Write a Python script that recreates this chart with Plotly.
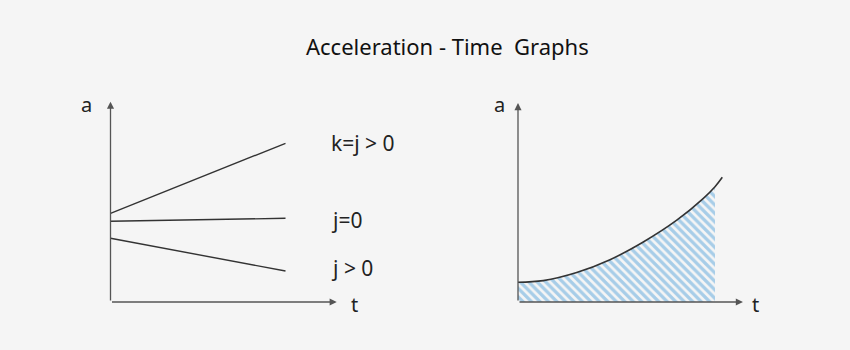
import plotly.graph_objects as go

# ---- data ----
title_text = "Acceleration - Time\u00a0 Graphs"

# left panel: a(t) lines, t in [0, 1]
left_t = [0.0, 1.0]
a_k_pos = [0.887, 1.587]     # k=j > 0
a_j_zero = [0.807, 0.837]    # j=0
a_j_neg = [0.637, 0.310]     # j > 0 (decreasing)
left_labels = ["k=j > 0", "j=0", "j > 0"]
left_label_y = [1.59, 0.82, 0.34]

# right panel: curve a(t)
curve_t = [0.0, 0.128, 0.298, 0.467, 0.636, 0.806, 0.941, 1.0, 1.037]
curve_a = [0.197, 0.214, 0.295, 0.423, 0.600, 0.818, 1.037, 1.153, 1.247]
hatch_t = curve_t[:8]
hatch_a = curve_a[:8]

axis_len_left = (1.293, 2.003)
axis_len_right = (1.142, 1.99)

BG = "#f5f5f5"
AXC = "#555555"
LINEC = "#333333"
FONT = "Noto Sans"

fig = go.Figure()

for ya in (a_k_pos, a_j_zero, a_j_neg):
    fig.add_trace(go.Scatter(x=left_t, y=ya, mode="lines",
                             line=dict(color=LINEC, width=1.4),
                             xaxis="x", yaxis="y", showlegend=False, hoverinfo="skip"))

fig.add_trace(go.Scatter(x=hatch_t, y=hatch_a, mode="lines", fill="tozeroy",
                         line=dict(width=0, shape="spline", color="rgba(0,0,0,0)"),
                         fillcolor="#5aa6dc",
                         fillpattern=dict(shape="\\", fgcolor="#5aa6dc",
                                          bgcolor="rgba(0,0,0,0)", size=6, solidity=0.55),
                         xaxis="x2", yaxis="y2", showlegend=False, hoverinfo="skip"))
fig.add_trace(go.Scatter(x=curve_t, y=curve_a, mode="lines",
                         line=dict(color=LINEC, width=1.6, shape="spline"),
                         xaxis="x2", yaxis="y2", showlegend=False, hoverinfo="skip"))

annotations = []
def arrow(x, y, ax, ay, xr, yr):
    annotations.append(dict(x=x, y=y, ax=ax, ay=ay, xref=xr, yref=yr, axref=xr, ayref=yr,
                            showarrow=True, arrowhead=2, arrowsize=1.1, arrowwidth=1.3,
                            arrowcolor=AXC, text=""))

arrow(axis_len_left[0], 0, 0, 0, "x", "y")
arrow(0, axis_len_left[1], 0, 0, "x", "y")
arrow(axis_len_right[0], 0, 0, 0, "x2", "y2")
arrow(0, axis_len_right[1], 0, 0, "x2", "y2")

def label(x, y, txt, xr, yr, anchor="center", size=20):
    annotations.append(dict(x=x, y=y, xref=xr, yref=yr, text=txt, showarrow=False,
                            xanchor=anchor, yanchor="middle",
                            font=dict(family=FONT, size=size, color="#222222")))

label(-0.135, 1.98, "a", "x", "y")
label(1.394, -0.02, "t", "x", "y")
label(-0.095, 1.98, "a", "x2", "y2")
label(1.208, -0.02, "t", "x2", "y2")
for txt, yy in zip(left_labels, left_label_y):
    label(1.25, yy, txt, "x", "y", anchor="left", size=21)

annotations.append(dict(x=0.527, y=(350 - 46) / 350, xref="paper", yref="paper",
                        text=title_text, showarrow=False, xanchor="center", yanchor="middle",
                        font=dict(family=FONT, size=22, color="#111111")))

px_per_t_left = 175.0
px_per_t_right = 197.0
px_per_a = 100.0
ax_common = dict(showgrid=False, zeroline=False, showticklabels=False, showline=False,
                 ticks="", fixedrange=True)

fig.update_layout(
    width=850, height=350,
    margin=dict(l=0, r=0, t=0, b=0),
    paper_bgcolor=BG, plot_bgcolor=BG,
    xaxis=dict(domain=[0, 0.5], range=[(0 - 110.5) / px_per_t_left, (425 - 110.5) / px_per_t_left], **ax_common),
    yaxis=dict(domain=[0, 1], range=[(302 - 350) / px_per_a, 302 / px_per_a], anchor="x", **ax_common),
    xaxis2=dict(domain=[0.5, 1], range=[(425 - 518) / px_per_t_right, (850 - 518) / px_per_t_right], anchor="y2", **ax_common),
    yaxis2=dict(domain=[0, 1], range=[(302 - 350) / px_per_a, 302 / px_per_a], anchor="x2", **ax_common),
    annotations=annotations,
    showlegend=False,
)

fig.write_html("out.html")
